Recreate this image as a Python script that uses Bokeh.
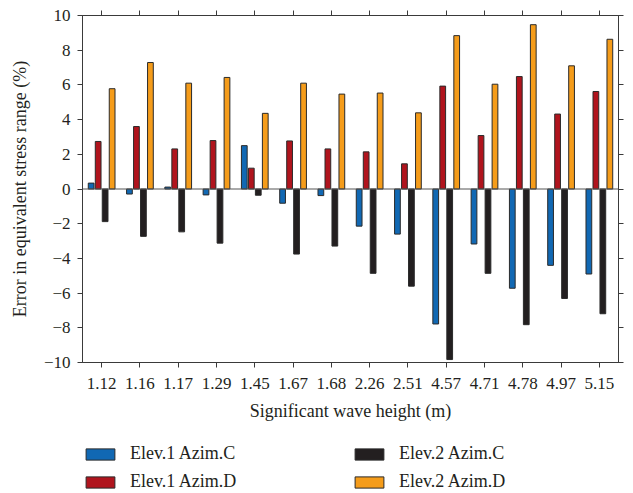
from bokeh.plotting import figure
from bokeh.layouts import column
from bokeh.models import (FactorRange, LinearAxis, CategoricalAxis, Legend, LegendItem,
                          Span, FixedTicker, ColumnDataSource)
from bokeh.transform import dodge
from bokeh.embed import file_html
from bokeh.resources import INLINE

categories = ["1.12", "1.16", "1.17", "1.29", "1.45", "1.67", "1.68",
              "2.26", "2.51", "4.57", "4.71", "4.78", "4.97", "5.15"]
elev1_azimC = [0.34, -0.29, 0.11, -0.34, 2.50, -0.82, -0.38,
               -2.14, -2.60, -7.78, -3.17, -5.72, -4.40, -4.90]
elev1_azimD = [2.74, 3.60, 2.31, 2.79, 1.20, 2.77, 2.31,
               2.14, 1.45, 5.93, 3.08, 6.48, 4.32, 5.62]
elev2_azimC = [-1.88, -2.73, -2.47, -3.12, -0.36, -3.75, -3.29,
               -4.86, -5.60, -9.83, -4.86, -7.82, -6.31, -7.19]
elev2_azimD = [5.78, 7.29, 6.10, 6.43, 4.36, 6.10, 5.47,
               5.53, 4.39, 8.84, 6.04, 9.47, 7.10, 8.63]
series_names = ["Elev.1 Azim.C", "Elev.1 Azim.D", "Elev.2 Azim.C", "Elev.2 Azim.D"]
y_ticks = [-10, -8, -6, -4, -2, 0, 2, 4, 6, 8, 10]

colors = ["#1168b3", "#b0141d", "#231f20", "#f59c1a"]
offsets = [-0.274, -0.091, 0.091, 0.274]
FONT = "Liberation Serif"
AX = "#3a3a3a"

src = ColumnDataSource(dict(cat=categories, s0=elev1_azimC, s1=elev1_azimD,
                            s2=elev2_azimC, s3=elev2_azimD))

p = figure(x_range=FactorRange(*categories), y_range=(-10, 10),
           frame_width=536, frame_height=347,
           output_backend="svg", toolbar_location=None,
           min_border_left=82, min_border_right=15, min_border_top=15,
           min_border_bottom=63)
p.xgrid.visible = False
p.ygrid.visible = False
p.outline_line_color = AX
p.background_fill_color = "white"
p.border_fill_color = "white"

p.add_layout(Span(location=0, dimension="width", line_color="#555555", line_width=1))

for i, key in enumerate(["s0", "s1", "s2", "s3"]):
    p.vbar(x=dodge("cat", offsets[i], range=p.x_range), top=key, bottom=0,
           width=0.15, source=src, fill_color=colors[i], line_color="#2a2a2a",
           line_width=1)

def style_axis(ax, labels=True):
    ax.axis_line_color = AX
    ax.major_tick_line_color = AX
    ax.minor_tick_line_color = None
    ax.major_tick_out = 5
    ax.major_tick_in = 0
    ax.major_label_text_font = FONT
    ax.major_label_text_font_size = "17px"
    ax.major_label_text_color = "#231f20"
    ax.axis_label_text_font = FONT
    ax.axis_label_text_font_size = "18px"
    ax.axis_label_text_font_style = "normal"
    ax.axis_label_text_color = "#231f20"
    if not labels:
        ax.major_label_text_font_size = "0px"
        ax.major_label_text_color = None

p.yaxis.ticker = FixedTicker(ticks=y_ticks)
p.yaxis.axis_label = "Error in equivalent stress range (%)"
p.xaxis.axis_label = "Significant wave height (m)"
style_axis(p.xaxis[0])
style_axis(p.yaxis[0])
p.yaxis.major_label_standoff = 7
p.xaxis.major_label_standoff = 10
p.xaxis.axis_label_standoff = 9
p.yaxis.axis_label_standoff = 11

top_ax = CategoricalAxis()
style_axis(top_ax, labels=False)
p.add_layout(top_ax, "above")
right_ax = LinearAxis(ticker=FixedTicker(ticks=y_ticks))
style_axis(right_ax, labels=False)
p.add_layout(right_ax, "right")

# legend-only figure (its placeholder bars sit outside its visible range)
lg = figure(width=633, height=68, x_range=(0, 1), y_range=(0, 1),
            output_backend="svg", toolbar_location=None,
            min_border=0, outline_line_color=None)
lg.axis.visible = False
lg.grid.visible = False
lg.border_fill_color = "white"
dummy = []
for i in range(4):
    dummy.append(lg.vbar(x=[-5], top=[-5], bottom=[-6], width=0.1, fill_color=colors[i],
                         line_color="#2a2a2a", line_width=1))

items = [LegendItem(label=series_names[k], renderers=[dummy[k]]) for k in range(4)]
legend = Legend(items=items, ncols=2, location=(0, 1),
                glyph_width=36, glyph_height=14, label_standoff=12,
                label_width=214, label_height=20, spacing=7, padding=0, margin=0,
                label_text_font=FONT, label_text_font_size="18px",
                label_text_color="#231f20", border_line_color=None,
                background_fill_alpha=0)
lg.add_layout(legend, "center")

layout = column(p, lg, spacing=0)
open("out.html", "w").write(file_html(layout, INLINE))
